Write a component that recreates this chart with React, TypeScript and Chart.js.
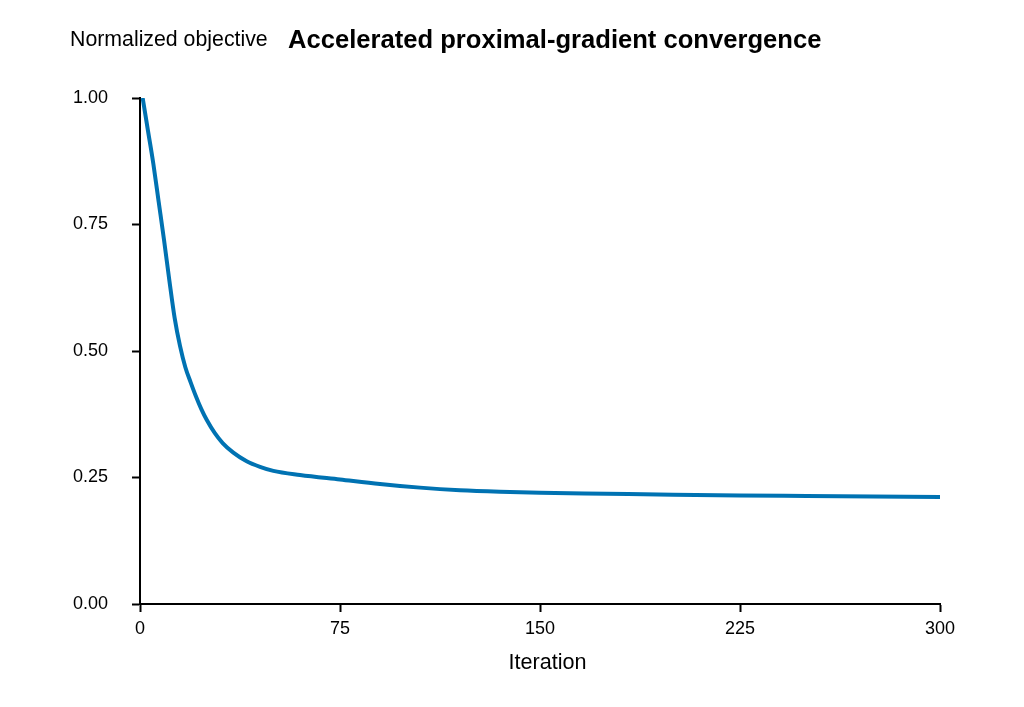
import React, { useEffect, useRef } from "react";
import { Chart, registerables } from "chart.js";

Chart.register(...registerables);

const iterations = [1, 3, 5, 7, 9, 11, 13, 15, 17, 19, 21, 23, 25, 28, 31, 35, 40, 45, 50, 60, 75, 90, 105, 120, 135, 150, 175, 200, 225, 250, 275, 300];
const objective = [1.0, 0.935, 0.87, 0.795, 0.72, 0.64, 0.565, 0.51, 0.468, 0.438, 0.41, 0.385, 0.364, 0.338, 0.318, 0.299, 0.282, 0.271, 0.263, 0.255, 0.246, 0.237, 0.23, 0.225, 0.222, 0.22, 0.218, 0.216, 0.2145, 0.2135, 0.2125, 0.2115];
const xTicks = [0, 75, 150, 225, 300];
const yTicks = [0, 0.25, 0.5, 0.75, 1.0];

const chartTitle = "Accelerated proximal-gradient convergence";
const yAxisLabel = "Normalized objective";
const xAxisLabel = "Iteration";

const FONT = '"Liberation Sans", Arial, Helvetica, sans-serif';

export default function App() {
  const canvasRef = useRef<HTMLCanvasElement | null>(null);

  useEffect(() => {
    if (!canvasRef.current) return;
    const textPlugin = {
      id: "headerTexts",
      afterDraw(chart: any) {
        const ctx = chart.ctx;
        ctx.save();
        ctx.fillStyle = "#000";
        ctx.textBaseline = "middle";
        ctx.textAlign = "left";
        ctx.font = `21.3px ${FONT}`;
        ctx.fillText(yAxisLabel, 70, 40.5);
        ctx.font = `bold 25.6px ${FONT}`;
        ctx.fillText(chartTitle, 288, 40.5);
        ctx.textAlign = "center";
        ctx.font = `21.6px ${FONT}`;
        ctx.fillText(xAxisLabel, 547.5, 663.5);
        ctx.restore();
      },
    };

    const chart = new Chart(canvasRef.current, {
      type: "line",
      data: {
        datasets: [
          {
            data: iterations.map((x, i) => ({ x, y: objective[i] })),
            borderColor: "#0072B2",
            backgroundColor: "#0072B2",
            borderWidth: 4,
            pointRadius: 0,
            cubicInterpolationMode: "monotone",
            fill: false,
          },
        ],
      },
      options: {
        responsive: false,
        devicePixelRatio: 1,
        animation: false,
        layout: { padding: { top: 98, right: 84, left: 0, bottom: 0 } },
        plugins: {
          legend: { display: false },
          tooltip: { enabled: false },
          title: { display: false },
        },
        scales: {
          x: {
            type: "linear",
            min: xTicks[0],
            max: xTicks[xTicks.length - 1],
            afterFit: (scale: any) => {
              scale.height = 103;
            },
            afterBuildTicks: (scale: any) => {
              scale.ticks = xTicks.map((v) => ({ value: v }));
            },
            grid: {
              display: true,
              drawOnChartArea: false,
              drawTicks: true,
              tickLength: 8,
              tickWidth: 2,
              tickColor: "#000",
            },
            border: { display: true, color: "#000", width: 2 },
            ticks: {
              color: "#000",
              padding: 6,
              maxRotation: 0,
              font: { family: FONT, size: 18 },
              callback: (v: any) => String(v),
            },
            title: { display: false },
          },
          y: {
            type: "linear",
            min: yTicks[0],
            max: yTicks[yTicks.length - 1],
            afterFit: (scale: any) => {
              scale.width = 140;
            },
            afterBuildTicks: (scale: any) => {
              scale.ticks = yTicks.map((v) => ({ value: v }));
            },
            grid: {
              display: true,
              drawOnChartArea: false,
              drawTicks: true,
              tickLength: 8,
              tickWidth: 2,
              tickColor: "#000",
            },
            border: { display: true, color: "#000", width: 2 },
            ticks: {
              color: "#000",
              padding: 24,
              font: { family: FONT, size: 18 },
              callback: (v: any) => Number(v).toFixed(2),
            },
          },
        },
      },
      plugins: [textPlugin],
    });

    return () => {
      chart.destroy();
    };
  }, []);

  return (
    <div style={{ position: "absolute", left: 0, top: 0, width: 1024, height: 707, background: "#fff" }}>
      <canvas ref={canvasRef} width={1024} height={707} style={{ display: "block", width: 1024, height: 707 }} />
    </div>
  );
}
